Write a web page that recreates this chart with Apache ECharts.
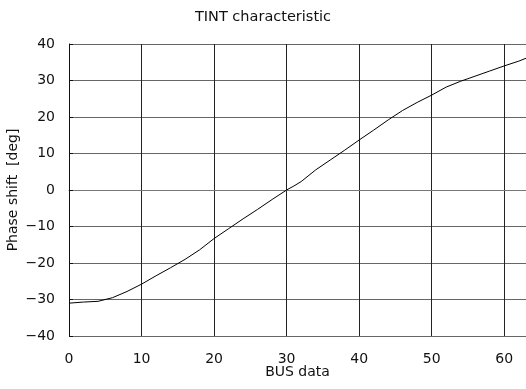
<!DOCTYPE html>
<html><head><meta charset="utf-8">
<script src="https://cdn.jsdelivr.net/npm/echarts@6/dist/echarts.min.js"></script>
<style>html,body{margin:0;padding:0;background:#fff}#c{width:526px;height:389px}</style>
</head><body><div id="c"></div>
<script>
const titleText = "TINT characteristic";
const xName = "BUS data";
const yName = "Phase shift  [deg]";
const busData = [0,2,4,6,8,10,12,14,16,18,20,22,24,26,28,30,31,32,34,36,38,40,42,44,46,48,50,52,54,56,58,60,62,63];
const phaseShift = [-31.0,-30.7,-30.5,-29.5,-27.8,-25.8,-23.5,-21.3,-19.0,-16.4,-13.3,-10.6,-7.9,-5.3,-2.6,0,1.1,2.3,5.5,8.2,10.9,13.7,16.4,19.2,21.8,24.0,26.0,28.2,29.8,31.2,32.6,34.0,35.3,36.1];
const font = "'DejaVu Sans', sans-serif";
const chart = echarts.init(document.getElementById('c'), null, {renderer:'canvas'});
const minus = v => String(v).replace('-', '\u2212');
chart.setOption({
  animation: false,
  title: {text: titleText, left: 'center', top: 5, textStyle: {fontFamily: font, fontSize: 14.5, fontWeight: 'normal', color: '#111'}},
  grid: {left: 69, right: 0, top: 44, bottom: 53, containLabel: false, outerBoundsMode: 'none'},
  xAxis: {
    type: 'value', min: 0, max: 63, interval: 10,
    name: xName, nameLocation: 'middle', nameGap: 29, nameMoveOverlap: false,
    nameTextStyle: {fontFamily: font, fontSize: 14, color: '#111'},
    axisLine: {show: true, lineStyle: {color: '#777', width: 1}},
    axisTick: {show: false},
    axisLabel: {fontFamily: font, fontSize: 14, color: '#111', margin: 16, formatter: minus, showMaxLabel: false},
    splitLine: {show: true, lineStyle: {color: '#222', width: 1}}
  },
  yAxis: {
    type: 'value', min: -40, max: 40, interval: 10,
    name: yName, nameLocation: 'middle', nameGap: 49, nameMoveOverlap: false,
    nameTextStyle: {fontFamily: font, fontSize: 14, color: '#111'},
    axisLine: {show: true, lineStyle: {color: '#111', width: 1}},
    axisTick: {show: true, inside: true, length: 4, lineStyle: {color: '#111'}},
    axisLabel: {fontFamily: font, fontSize: 14, color: '#111', margin: 14, formatter: minus},
    splitLine: {show: true, lineStyle: {color: '#666', width: 1}}
  },
  series: [{
    type: 'line', data: busData.map((x, i) => [x, phaseShift[i]]),
    showSymbol: false, smooth: false,
    lineStyle: {color: '#000', width: 1}
  }]
});
</script></body></html>
